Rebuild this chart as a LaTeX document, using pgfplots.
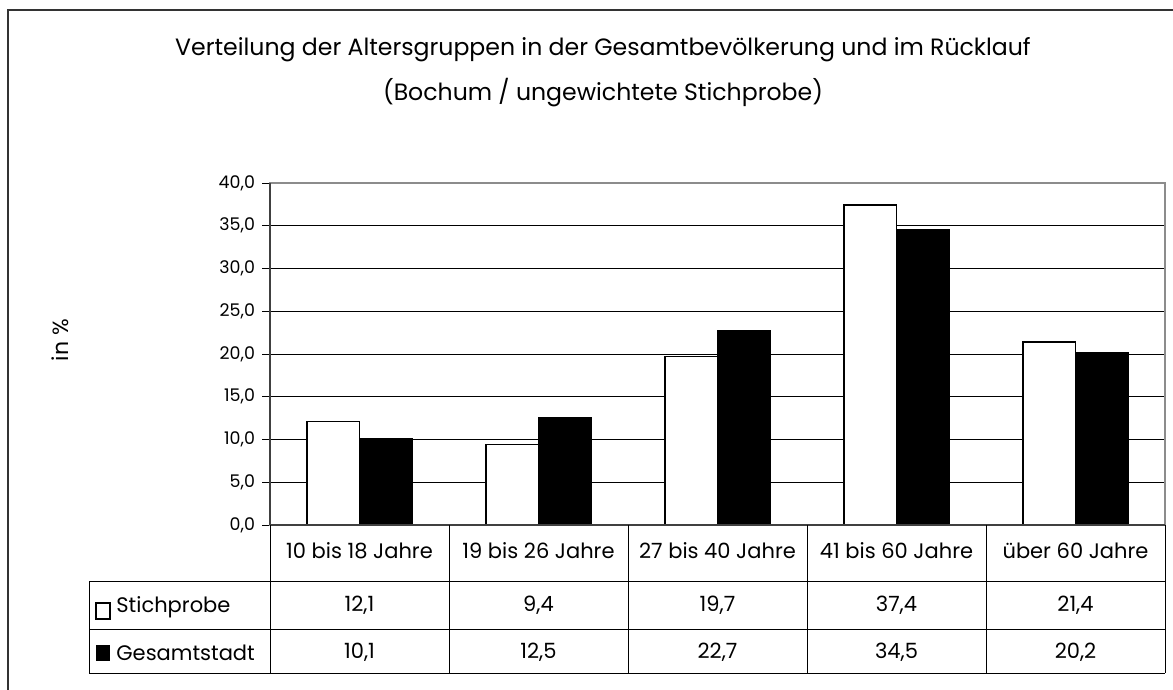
\documentclass[border=0pt]{standalone}
\usepackage{fontspec}
\setmainfont{Poppins}
\usepackage{pgfplots}
\pgfplotsset{compat=1.18}

\begin{document}
\begin{tikzpicture}
% pixel grid of the reference: 1 px = 0.5pt, y downwards
\begin{scope}[x=0.5pt,y=-0.5pt]
  \path[use as bounding box] (0,0) rectangle (1173,690);
  \draw[line width=1pt, black!80] (8,690) -- (8,10) -- (1173,10);
  \node[font=\fontsize{11.8}{13}\selectfont] at (603,50) {Verteilung der Altersgruppen in der Gesamtbevölkerung und im Rücklauf};
  \node[font=\fontsize{11.8}{13}\selectfont] at (603,93) {(Bochum / ungewichtete Stichprobe)};
  \node[rotate=90, font=\fontsize{11}{12}\selectfont] at (60,340) {in \%};
\end{scope}

\begin{axis}[
  at={(135pt,-262.5pt)}, anchor=south west,
  scale only axis,
  width=447.5pt, height=171pt,
  xmin=0.5, xmax=5.5,
  ymin=0, ymax=40,
  ytick={0,5,...,40},
  xtick=\empty,
  ybar=0pt, bar width=26.25pt,
  ymajorgrids,
  grid style={black, line width=0.5pt},
  axis line style={black!45, line width=0.6pt},
  ytick style={black, line width=0.5pt},
  major tick length=4pt,
  tick align=outside,
  ytick pos=left,
  y tick label style={font=\fontsize{8.7}{10}\selectfont,
    /pgf/number format/.cd, fixed, fixed zerofill, precision=1, use comma, assume math mode=true},
  clip=false,
]
\addplot[draw=black, line width=0.75pt, fill=white] coordinates {(1,12.1) (2,9.4) (3,19.7) (4,37.4) (5,21.4)};
\addplot[draw=black, line width=0.75pt, fill=black] coordinates {(1,10.1) (2,12.5) (3,22.7) (4,34.5) (5,20.2)};
\draw[black!75, line width=1.2pt] (rel axis cs:0,1) -- (rel axis cs:0,0);
\draw[black!75, line width=0.8pt] (rel axis cs:0,0) -- (rel axis cs:1,0);
\end{axis}

\begin{scope}[x=0.5pt,y=-0.5pt]
  \begin{scope}[black, line width=0.5pt]
    \draw (89,581) -- (1165,581);
    \draw (89,629) -- (1165,629);
    \draw (89,673) -- (1165,673);
    \draw (89,581) -- (89,673);
    \foreach \xx in {270,449,628,807,986,1165} \draw (\xx,525) -- (\xx,673);
  \end{scope}
  \begin{scope}[font=\fontsize{10.5}{12}\selectfont]
    \node at (359.5,551) {10 bis 18 Jahre};
    \node at (538.5,551) {19 bis 26 Jahre};
    \node at (717.5,551) {27 bis 40 Jahre};
    \node at (896.5,551) {41 bis 60 Jahre};
    \node at (1075.5,551) {über 60 Jahre};
    \draw[black, line width=0.6pt, fill=white] (96,603) rectangle (110,619);
    \fill[black] (96,645) rectangle (110,661);
    \node[anchor=west, inner sep=0pt] at (116,607) {Stichprobe};
    \node[anchor=west, inner sep=0pt] at (116,653) {Gesamtstadt};
    \node at (359.5,605) {12,1};
    \node at (538.5,605) {9,4};
    \node at (717.5,605) {19,7};
    \node at (896.5,605) {37,4};
    \node at (1075.5,605) {21,4};
    \node at (359.5,652) {10,1};
    \node at (538.5,652) {12,5};
    \node at (717.5,652) {22,7};
    \node at (896.5,652) {34,5};
    \node at (1075.5,652) {20,2};
  \end{scope}
\end{scope}
\end{tikzpicture}
\end{document}
